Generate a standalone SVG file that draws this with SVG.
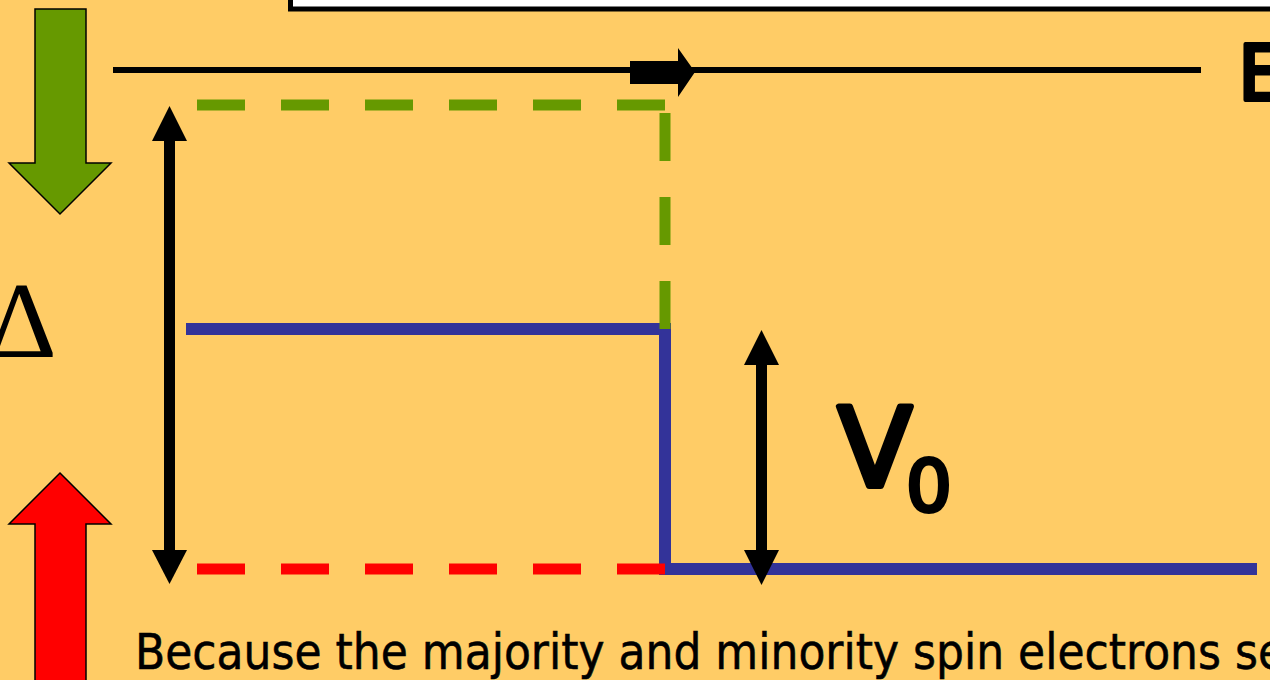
<svg xmlns="http://www.w3.org/2000/svg" width="1270" height="680" viewBox="0 0 1270 680">
<defs>
<style>
.txt{font-family:"DejaVu Sans","Noto Sans",sans-serif;fill:#000}
.bold{stroke:#000;stroke-linejoin:round;stroke-linecap:round}
.dash{fill:none;stroke-width:11;stroke-dasharray:48 36}
.blk{fill:#000}
</style>
</defs>
<rect width="1270" height="680" fill="#FFCC66"/>
<g id="title-box">
<rect x="290.5" y="-20" width="1000" height="29" fill="#fff" stroke="#000" stroke-width="5"/>
</g>
<g id="spin-down-arrow">
<polygon points="35,9 86,9 86,163 111,163 60,214 9,163 35,163" fill="#669900" stroke="#000" stroke-width="1.5"/>
</g>
<g id="spin-up-arrow">
<polygon points="60,473 111,524 86,524 86,685 35,685 35,524 9,524" fill="#FF0000" stroke="#000" stroke-width="1.5"/>
</g>
<g id="delta-label">
<text x="22" y="357" style="font-family:'Liberation Serif','Times New Roman',serif" font-size="108" text-anchor="middle">Δ</text>
</g>
<g id="energy-axis">
<line x1="113" y1="70" x2="1201" y2="70" stroke="#000" stroke-width="6"/>
<polygon class="blk" points="630,61 678,61 678,48 695,72 678,97 678,84 630,84"/>
<text class="txt bold" x="1238" y="100" font-size="76" stroke-width="4">E</text>
</g>
<g id="connectors">
<path d="M186,329 H665 V569 H1257" fill="none" stroke="#333399" stroke-width="12"/>
<line class="dash" x1="197" y1="105" x2="665" y2="105" stroke="#669900"/>
<line class="dash" x1="665" y1="113" x2="665" y2="329" stroke="#669900"/>
<line class="dash" x1="197" y1="569" x2="665" y2="569" stroke="#FF0000"/>
</g>
<g id="delta-arrow">
<rect class="blk" x="164" y="138" width="11" height="415"/>
<polygon class="blk" points="169.5,106 187,141 152,141"/>
<polygon class="blk" points="169.5,584 187,550 152,550"/>
</g>
<g id="v0-arrow">
<rect class="blk" x="756" y="362" width="11" height="191"/>
<polygon class="blk" points="761.5,330 779,365 744,365"/>
<polygon class="blk" points="761.5,585 779,550 744,550"/>
</g>
<g id="v0-label">
<text class="txt bold" x="838" y="486" font-size="108" stroke-width="6">V</text>
<text class="txt bold" x="906" y="511" font-size="72" stroke-width="4">0</text>
</g>
<g id="caption">
<text class="txt" x="135" y="669" font-size="50" stroke="#000" stroke-width="0.6" textLength="1150" lengthAdjust="spacingAndGlyphs">Because the majority and minority spin electrons se</text>
</g>
</svg>
